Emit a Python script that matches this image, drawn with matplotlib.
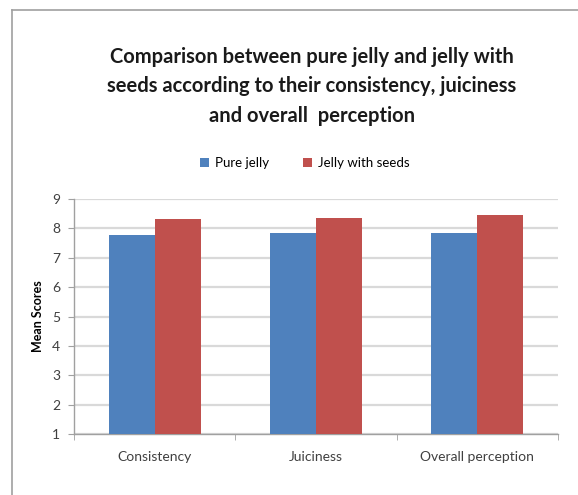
import matplotlib
matplotlib.use("Agg")
import matplotlib.pyplot as plt
import numpy as np
from matplotlib.lines import Line2D

categories = ["Consistency", "Juiciness", "Overall perception"]
pure_jelly = [7.78, 7.84, 7.84]
jelly_seeds = [8.32, 8.35, 8.45]
series_names = ["Pure jelly", "Jelly with seeds"]
colors = ["#4f81bd", "#c0504d"]

plt.rcParams['font.family'] = ['Lato', 'DejaVu Sans']

fig = plt.figure(figsize=(5.78, 4.95), dpi=100)
ax = fig.add_axes([0.128, 0.123, 0.837, 0.475])

x = np.arange(len(categories))
w = 0.285
ax.bar(x - w / 2, [v - 1 for v in pure_jelly], w, bottom=1, color=colors[0],
       label=series_names[0], zorder=3)
ax.bar(x + w / 2, [v - 1 for v in jelly_seeds], w, bottom=1, color=colors[1],
       label=series_names[1], zorder=3)

ax.set_ylim(1, 9)
ax.set_xlim(-0.5, 2.5)
ax.set_yticks(range(1, 10))
ax.yaxis.grid(True, color="#d9d9d9", linewidth=1.6, zorder=0)
ax.set_axisbelow(True)

ax.set_xticks(x)
ax.set_xticklabels(categories, fontsize=10, color="#404040")
ax.set_xticks([-0.5, 0.5, 1.5, 2.5], minor=True)
ax.tick_params(axis="x", which="major", length=0, pad=12)
ax.tick_params(axis="x", which="minor", length=4, color="#a0a0a0", direction="out")
ax.tick_params(axis="y", length=4, color="#a0a0a0", labelsize=10, labelcolor="#404040", pad=6)

for s in ["top", "right"]:
    ax.spines[s].set_visible(False)
for s in ["left", "bottom"]:
    ax.spines[s].set_color("#a0a0a0")
    ax.spines[s].set_linewidth(1.0)

ax.set_ylabel("Mean Scores", fontsize=9, fontweight="bold", labelpad=6)

fig.text(0.54, 0.826,
         "Comparison between pure jelly and jelly with\n"
         "seeds according to their consistency, juiciness\n"
         "and overall  perception",
         ha="center", va="center", fontsize=14.5, fontweight="bold",
         linespacing=1.6, color="#1a1a1a")

fig.legend(loc="center", bbox_to_anchor=(0.527, 0.671), ncol=2, frameon=False,
           fontsize=9.5, handlelength=0.7, handleheight=0.7, columnspacing=2.6,
           handletextpad=0.4)

# outer chart frame
fig.add_artist(Line2D([12 / 578, 12 / 578], [0, 1 - 10 / 495], color="#a0a0a0",
                      linewidth=1.2, transform=fig.transFigure))
fig.add_artist(Line2D([12 / 578, 1], [1 - 10 / 495, 1 - 10 / 495], color="#a0a0a0",
                      linewidth=1.2, transform=fig.transFigure))

fig.savefig("out.png", dpi=100)
